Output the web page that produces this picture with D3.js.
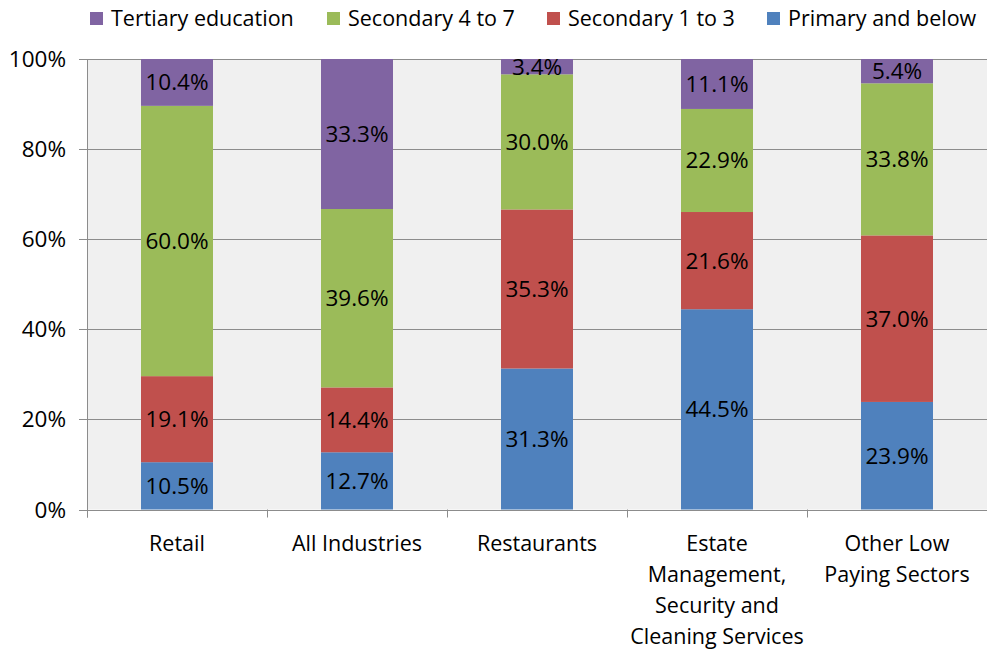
<!DOCTYPE html>
<html>
<head>
<meta charset="utf-8">
<script src="https://cdn.jsdelivr.net/npm/d3@7"></script>
<style>
  body { margin: 0; background: #fff; }
  text { font-family: "Open Sans", "Noto Sans", sans-serif; fill: #000; }
</style>
</head>
<body>
<svg id="chart" width="987" height="649"></svg>
<script>
// categories (x labels, split into lines)
const categories = ["Retail", "All Industries", "Restaurants", "Estate Management, Security and Cleaning Services", "Other Low Paying Sectors"];
const categoryLines = [
  ["Retail"],
  ["All Industries"],
  ["Restaurants"],
  ["Estate", "Management,", "Security and", "Cleaning Services"],
  ["Other Low", "Paying Sectors"]
];

// series, bottom to top
const primary    = [10.5, 12.7, 31.3, 44.5, 23.9];
const secondary13 = [19.1, 14.4, 35.3, 21.6, 37.0];
const secondary47 = [60.0, 39.6, 30.0, 22.9, 33.8];
const tertiary   = [10.4, 33.3, 3.4, 11.1, 5.4];

const seriesNames = ["Primary and below", "Secondary 1 to 3", "Secondary 4 to 7", "Tertiary education"];
const seriesColors = ["#4f81bd", "#c0504d", "#9bbb59", "#8064a2"];
const yTicks = [0, 0.2, 0.4, 0.6, 0.8, 1];

const rows = categories.map((c, i) => ({
  cat: c,
  "Primary and below": primary[i],
  "Secondary 1 to 3": secondary13[i],
  "Secondary 4 to 7": secondary47[i],
  "Tertiary education": tertiary[i]
}));

const margin = {top: 59, left: 87, right: 0, bottom: 139};
const width = 987 - margin.left - margin.right;
const height = 649 - margin.top - margin.bottom - 0.5;
const textSize = "21.5px";
const numSize = "22.5px";

const svg = d3.select("#chart");

const xScale = d3.scaleBand().domain(categories).range([margin.left, margin.left + width]).paddingInner(0.6).paddingOuter(0.3);
const yScale = d3.scaleLinear().domain([0, 1]).range([margin.top + height, margin.top]);
const color = d3.scaleOrdinal().domain(seriesNames).range(seriesColors);

// plot background
svg.append("rect")
  .attr("x", margin.left).attr("y", margin.top)
  .attr("width", width).attr("height", height)
  .attr("fill", "#f0f0f0");

// gridlines
svg.append("g").selectAll("line").data(yTicks).enter().append("line")
  .attr("x1", margin.left - 8).attr("x2", margin.left + width)
  .attr("y1", d => Math.round(yScale(d)) + 0.5).attr("y2", d => Math.round(yScale(d)) + 0.5)
  .attr("stroke", "#8c8c8c").attr("stroke-width", 1);

// y tick labels
svg.append("g").selectAll("text").data(yTicks).enter().append("text")
  .attr("x", 66).attr("y", d => yScale(d) + 8)
  .attr("text-anchor", "end")
  .style("font-size", numSize)
  .text(d => d3.format(".0%")(d));

const stack = d3.stack().keys(seriesNames).offset(d3.stackOffsetExpand);
const stacked = stack(rows);

const layers = svg.append("g").selectAll("g").data(stacked).enter().append("g")
  .attr("fill", d => color(d.key));

layers.selectAll("rect").data(d => d).enter().append("rect")
  .attr("x", d => xScale(d.data.cat))
  .attr("width", xScale.bandwidth())
  .attr("y", d => yScale(d[1]))
  .attr("height", d => yScale(d[0]) - yScale(d[1]));

// value labels
const labels = svg.append("g");
stacked.forEach(layer => {
  layer.forEach(d => {
    labels.append("text")
      .attr("x", xScale(d.data.cat) + xScale.bandwidth() / 2)
      .attr("y", yScale((d[0] + d[1]) / 2) + 8)
      .attr("text-anchor", "middle")
      .style("font-size", numSize)
      .text(d3.format(".1f")(d.data[layer.key]) + "%");
  });
});

// axes lines
const axisColor = "#8c8c8c";
svg.append("line")
  .attr("x1", margin.left + 0.5).attr("x2", margin.left + 0.5)
  .attr("y1", margin.top).attr("y2", margin.top + height + 8)
  .attr("stroke", axisColor);

const step = width / categories.length;
svg.append("g").selectAll("line").data(d3.range(categories.length + 1)).enter().append("line")
  .attr("x1", i => Math.round(margin.left + i * step) + 0.5)
  .attr("x2", i => Math.round(margin.left + i * step) + 0.5)
  .attr("y1", margin.top + height).attr("y2", margin.top + height + 8)
  .attr("stroke", axisColor);

// x labels
const xl = svg.append("g").selectAll("text").data(categories).enter().append("text")
  .attr("text-anchor", "middle")
  .style("font-size", textSize);
xl.each(function(c, i) {
  const t = d3.select(this);
  categoryLines[i].forEach((ln, j) => {
    t.append("tspan")
      .attr("x", xScale(c) + xScale.bandwidth() / 2)
      .attr("y", 551 + j * 31)
      .text(ln);
  });
});

// legend (reverse order, tertiary first)
const legendItems = [
  {name: "Tertiary education", x: 90},
  {name: "Secondary 4 to 7", x: 327},
  {name: "Secondary 1 to 3", x: 547},
  {name: "Primary and below", x: 767}
];
const legend = svg.append("g").selectAll("g").data(legendItems).enter().append("g")
  .attr("transform", d => "translate(" + d.x + ", 12)");
legend.append("rect").attr("width", 13).attr("height", 13).attr("fill", d => color(d.name));
legend.append("text").attr("x", 21).attr("y", 14).style("font-size", textSize).text(d => d.name);
</script>
</body>
</html>
